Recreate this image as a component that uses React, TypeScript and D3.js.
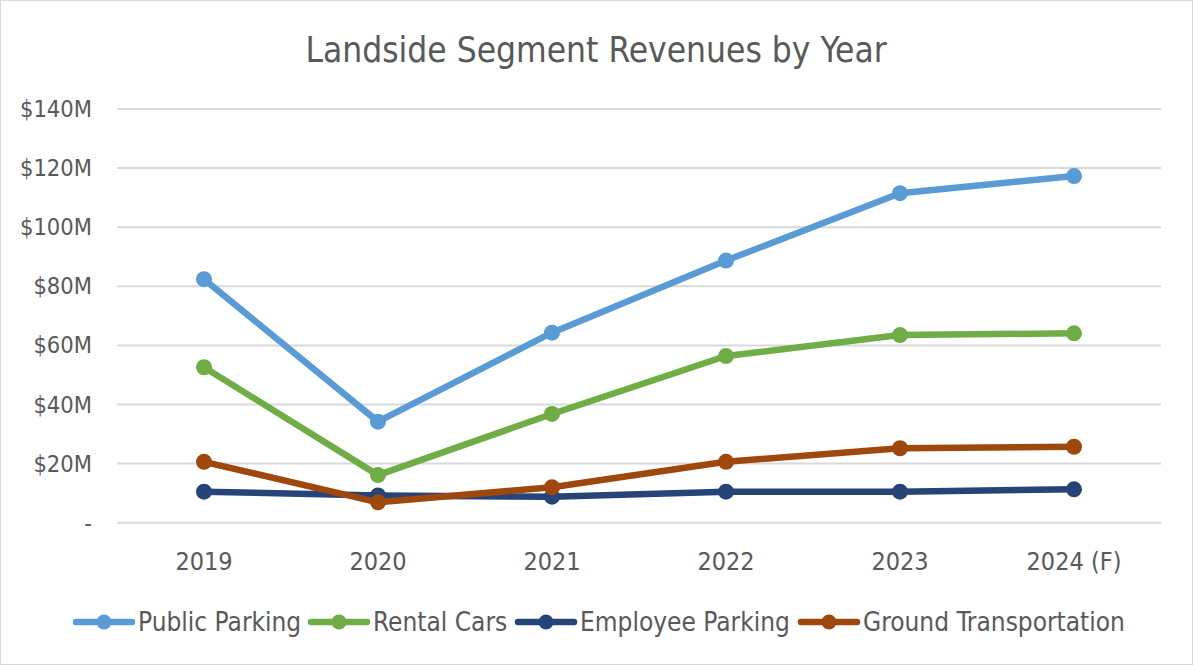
import React from "react";
import * as d3 from "d3";

const years = ["2019", "2020", "2021", "2022", "2023", "2024 (F)"];
const publicParking = [82.4, 34.2, 64.3, 88.7, 111.5, 117.3];
const rentalCars = [52.6, 16.1, 36.8, 56.4, 63.5, 64.1];
const employeeParking = [10.5, 9.2, 8.8, 10.5, 10.5, 11.3];
const groundTransportation = [20.6, 6.9, 12.0, 20.6, 25.2, 25.7];
const yTicks = [0, 20, 40, 60, 80, 100, 120, 140];
const seriesNames = ["Public Parking", "Rental Cars", "Employee Parking", "Ground Transportation"];
const seriesColors = ["#5B9BD5", "#70AD47", "#264478", "#9E480E"];
const seriesValues = [publicParking, rentalCars, employeeParking, groundTransportation];

const W = 1193;
const H = 665;
const FONT = "'DejaVu Sans Condensed', 'Open Sans', sans-serif";
const TEXT = "#595959";

export default function App() {
  const x = d3.scaleBand<string>().domain(years).range([117, 1161]);
  const y = d3.scaleLinear().domain([0, 140]).range([522.7, 109]);
  const line = d3
    .line<number>()
    .x((_, i) => (x(years[i]) as number) + x.bandwidth() / 2)
    .y((d) => y(d));

  const legendX = [74, 309, 516, 799];
  const legendY = 622;

  return (
    <div style={{ position: "absolute", left: 0, top: 0 }}>
      <svg width={W} height={H} style={{ display: "block", background: "#fff" }}>
        <rect x={0.5} y={0.5} width={W - 1} height={H - 1} fill="#fff" stroke="#d9d9d9" strokeWidth={1} />
        <text x={596} y={62} textAnchor="middle" fontFamily={FONT} fontSize={35} fill={TEXT}>
          Landside Segment Revenues by Year
        </text>
        {yTicks.map((t) => (
          <g key={t}>
            <line x1={117} x2={1161} y1={y(t)} y2={y(t)} stroke="#d9d9d9" strokeWidth={2} />
            <text x={92} y={y(t) + 8} textAnchor="end" fontFamily={FONT} fontSize={23.5} fill={TEXT}>
              {t === 0 ? "-" : `$${t}M`}
            </text>
          </g>
        ))}
        {years.map((yr) => (
          <text
            key={yr}
            x={(x(yr) as number) + x.bandwidth() / 2}
            y={570}
            textAnchor="middle"
            fontFamily={FONT}
            fontSize={25}
            fill={TEXT}
          >
            {yr}
          </text>
        ))}
        {seriesValues.map((vals, si) => (
          <g key={si}>
            <path d={line(vals) || ""} fill="none" stroke={seriesColors[si]} strokeWidth={6.5} strokeLinejoin="round" strokeLinecap="round" />
            {vals.map((v, i) => (
              <circle
                key={i}
                cx={(x(years[i]) as number) + x.bandwidth() / 2}
                cy={y(v)}
                r={8}
                fill={seriesColors[si]}
              />
            ))}
          </g>
        ))}
        {seriesNames.map((name, si) => (
          <g key={name}>
            <line x1={legendX[si] + 2} x2={legendX[si] + 58} y1={legendY} y2={legendY} stroke={seriesColors[si]} strokeWidth={6.5} strokeLinecap="round" />
            <circle cx={legendX[si] + 30} cy={legendY} r={7.5} fill={seriesColors[si]} />
            <text x={legendX[si] + 64} y={legendY + 9} fontFamily={FONT} fontSize={26} fill={TEXT}>
              {name}
            </text>
          </g>
        ))}
      </svg>
    </div>
  );
}
